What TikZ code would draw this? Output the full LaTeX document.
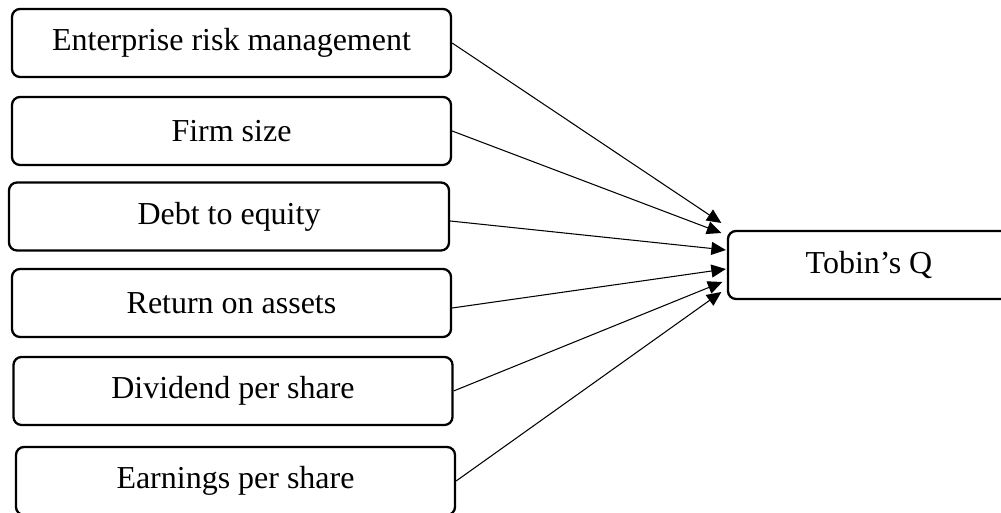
\documentclass[tikz,border=0pt]{standalone}
\usepackage{fontspec}
\setmainfont{Liberation Serif}
\usetikzlibrary{arrows.meta,positioning}

\begin{document}
\begin{tikzpicture}[font=\fontsize{18.2}{21}\selectfont, >={Triangle[length=2.9mm,width=2.6mm]},
  box/.style={draw, line width=1.3pt, rounded corners=1.6mm, align=center,
              minimum height=13.6mm, minimum width=87.8mm, inner sep=0pt},
  link/.style={->, line width=0.6pt}]

% page of the reference; the last box and the target run past its edges
\clip (0,0) rectangle (20.02,10.26);

\node[box] (erm)  at (4.63,9.40) {Enterprise risk management};
\node[box] (size) at (4.63,7.64) {Firm size};
\node[box, minimum width=88mm] (der) at (4.58,5.93) {Debt to equity};
\node[box] (roa)  at (4.63,4.20) {Return on assets};
\node[box] (dps)  at (4.66,2.44) {Dividend per share};
\node[box] (eps)  at (4.71,0.64) {Earnings per share};

\node[box, minimum width=56.4mm] (tobin) at (17.38,4.96) {Tobin’s Q};

% every predictor points at the left side of the target
\draw[link] (erm.east)  -- ([xshift=-1.1mm, yshift=8.4mm]tobin.west);
\draw[link] (size.east) -- ([xshift=-1.1mm, yshift=6.4mm]tobin.west);
\draw[link] ([yshift=-0.9mm]der.east) -- ([xshift=-0.2mm, yshift=3.0mm]tobin.west);
\draw[link] ([yshift=-1.0mm]roa.east) -- ([xshift=-0.2mm, yshift=-0.8mm]tobin.west);
\draw[link] (dps.east)  -- ([xshift=-0.9mm, yshift=-3.4mm]tobin.west);
\draw[link] (eps.east)  -- ([xshift=-1.1mm, yshift=-5.4mm]tobin.west);
\end{tikzpicture}
\end{document}
